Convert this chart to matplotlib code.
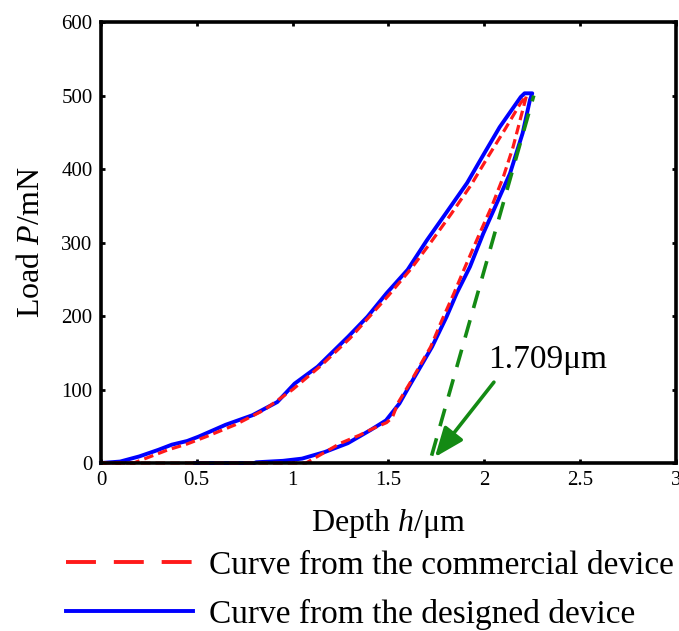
import numpy as np
import matplotlib
matplotlib.use("Agg")
import matplotlib.pyplot as plt
from matplotlib.lines import Line2D

plt.rcParams['font.family'] = ['Liberation Serif', 'DejaVu Serif']
plt.rcParams['mathtext.fontset'] = 'custom'
plt.rcParams['mathtext.rm'] = 'Liberation Serif'
plt.rcParams['mathtext.it'] = 'Liberation Serif:italic'

# designed device (blue, solid): loading then unloading
blue_h = [0, 0.1, 0.2, 0.3, 0.37, 0.45, 0.51, 0.65, 0.79, 0.92, 1.01, 1.13,
          1.29, 1.39, 1.49, 1.6, 1.7, 1.8, 1.91, 1.99, 2.08, 2.19, 2.21, 2.25,
          2.238, 2.2, 2.134, 2.064, 1.994, 1.925, 1.856, 1.803, 1.727, 1.607,
          1.557, 1.487, 1.407, 1.288, 1.168, 1.049, 0.95, 0.81, 0.8, 0.49]
blue_P = [0, 2, 9, 18, 25, 30, 36, 52, 65, 83, 108, 131,
          172, 199, 231, 263, 303, 340, 381, 417, 457, 498, 503, 503,
          494, 449, 394, 353, 312, 267, 231, 199, 158, 104,
          81, 58, 45, 27, 15, 6, 3, 1, 0, 0]

# commercial device (red, dashed)
red_h = [0, 0.17, 0.25, 0.35, 0.45, 0.55, 0.7, 0.85, 1.0, 1.15, 1.3, 1.5,
         1.62, 1.72, 1.83, 1.93, 2.02, 2.11, 2.19, 2.22,
         2.19, 2.15, 2.1, 2.04, 1.975, 1.9, 1.84, 1.78, 1.72, 1.61, 1.55,
         1.52, 1.49, 1.42, 1.35, 1.25, 1.15, 1.07, 0]
red_P = [0, 0, 8, 18, 26, 36, 52, 72, 100, 133, 170, 228,
         265, 300, 340, 378, 417, 455, 490, 500,
         470, 430, 390, 350, 312, 267, 230, 195, 158, 108, 82,
         62, 55, 47, 38, 27, 12, 0, 0]

# unloading tangent line and annotation
tangent_h = [1.725, 2.258]
tangent_P = [10, 500]
label_hc = 1.709
arrow_from = (2.05, 110)
arrow_to = (1.742, 8)
text_pos = (2.02, 140)

fig = plt.figure(figsize=(6.79, 6.31), dpi=100)
ax = fig.add_axes([0.1487, 0.2662, 0.8469, 0.6989])

green = '#148a14'
ax.plot(red_h, red_P, color='#ff1a1a', lw=2.3, dashes=(3, 1.6), clip_on=False, zorder=3)
ax.plot(blue_h, blue_P, color='#0000ff', lw=2.8, clip_on=False, zorder=2)
ax.plot(tangent_h, tangent_P, color=green, lw=2.6, dashes=(5, 3.5), zorder=4)
ax.annotate('', xy=arrow_to, xytext=arrow_from,
            arrowprops=dict(arrowstyle='-|>,head_length=0.45,head_width=0.18',
                            color=green, lw=2.6, mutation_scale=40, shrinkA=0, shrinkB=0))
ax.text(text_pos[0], text_pos[1], '%.3f\u03bcm' % label_hc, fontsize=24,
        ha='left', va='center')

ax.set_xlim(0, 3)
ax.set_ylim(0, 600)
ax.set_xticks(np.arange(0, 3.01, 0.5))
ax.set_xticklabels(['0', '0.5', '1', '1.5', '2', '2.5', '3'])
ax.set_yticks(np.arange(0, 601, 100))
ax.tick_params(direction='in', length=3, width=2, labelsize=15, pad=6,
               top=True, right=True)
for s in ax.spines.values():
    s.set_linewidth(2.6)
    s.set_zorder(5)

ax.set_xlabel('Depth $\\it{h}$/\u03bcm', fontsize=23, labelpad=12)
ax.set_ylabel('Load $\\it{P}$/mN', fontsize=23, labelpad=11)

handles = [Line2D([], [], color='#ff1a1a', lw=2.8, dashes=(7.7, 4.6)),
           Line2D([], [], color='#0000ff', lw=2.8)]
fig.legend(handles, ['Curve from the commercial device', 'Curve from the designed device'],
           loc='upper left', bbox_to_anchor=(0.097, 0.128), frameon=False,
           fontsize=24, handlelength=3.8, handletextpad=0.5, labelspacing=0.55,
           borderpad=0, borderaxespad=0)

fig.savefig('out.png', dpi=100)
